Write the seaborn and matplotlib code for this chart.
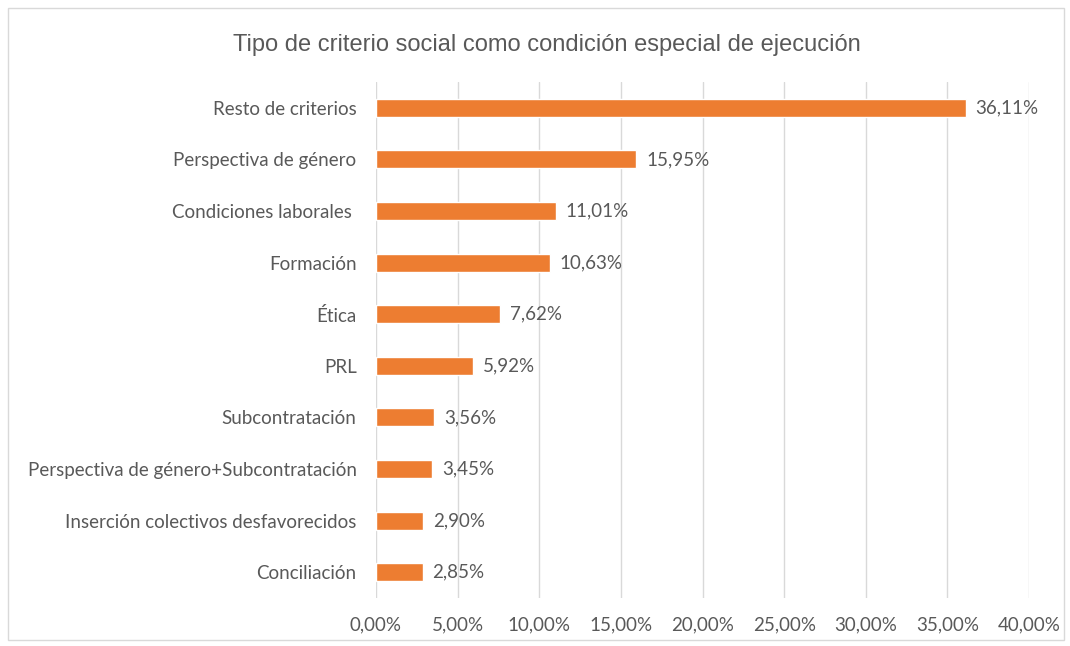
import seaborn as sns
import matplotlib.pyplot as plt
from matplotlib.patches import Rectangle
from matplotlib.ticker import FuncFormatter

categories = ['Resto de criterios', 'Perspectiva de género', 'Condiciones laborales ',
              'Formación', 'Ética', 'PRL', 'Subcontratación',
              'Perspectiva de género+Subcontratación',
              'Inserción colectivos desfavorecidos', 'Conciliación']
values = [36.11, 15.95, 11.01, 10.63, 7.62, 5.92, 3.56, 3.45, 2.90, 2.85]

sns.set_style('white')
plt.rcParams['font.family'] = ['Lato', 'DejaVu Sans']
text_color = '#595959'

fig = plt.figure(figsize=(10.7, 6.46), dpi=100)
ax = fig.add_axes([0.3514, 0.0743, 0.6103, 0.7987])

sns.barplot(x=values, y=categories, orient='h', color='#ED7D31',
            width=0.35, saturation=1, ax=ax)

ax.set_xlim(0, 40)
ax.set_xticks(range(0, 41, 5))
ax.xaxis.set_major_formatter(FuncFormatter(lambda v, p: f'{v:.2f}%'.replace('.', ',')))
ax.grid(axis='x', color='#D9D9D9', linewidth=1)
ax.set_axisbelow(True)
for s in ax.spines.values():
    s.set_visible(False)
ax.tick_params(axis='both', length=0, labelsize=13.5, colors=text_color)
ax.tick_params(axis='x', pad=13)
ax.tick_params(axis='y', pad=14)
ax.set_xlabel('')
ax.set_ylabel('')

# value labels
for i, v in enumerate(values):
    ax.text(v + 0.6, i, f'{v:.2f}%'.replace('.', ','), va='center', ha='left',
            fontsize=13.5, color=text_color)

fig.text(0.511, 0.931, 'Tipo de criterio social como condición especial de ejecución',
         ha='center', va='center', fontsize=17, color=text_color,
         family=['Liberation Sans', 'DejaVu Sans'])

fig.patches.append(Rectangle((8 / 1070, 6 / 646), 1056 / 1070, 632 / 646,
                             transform=fig.transFigure, fill=False,
                             edgecolor='#D9D9D9', linewidth=1))

fig.savefig('out.png', dpi=100)
